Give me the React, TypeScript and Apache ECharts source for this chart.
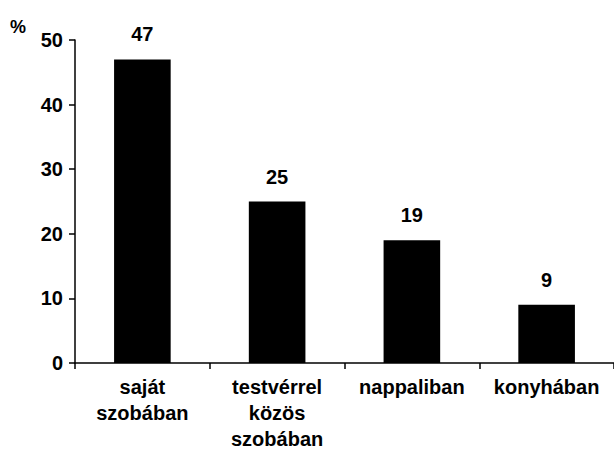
import React, { useEffect, useRef } from "react";
import * as echarts from "echarts";

const categories = ["saját\nszobában", "testvérrel\nközös\nszobában", "nappaliban", "konyhában"];
const values = [47, 25, 19, 9];
const yTicks = { min: 0, max: 50, interval: 10 };
const unitLabel = "%";

export default function App() {
  const ref = useRef<HTMLDivElement>(null);
  useEffect(() => {
    if (!ref.current) return;
    const chart = echarts.init(ref.current, null, { renderer: "svg" });
    const font = "'Liberation Sans', Arial, sans-serif";
    chart.setOption({
      animation: false,
      backgroundColor: "#ffffff",
      grid: { left: 75, right: -5, top: 40, bottom: 104, containLabel: false },
      graphic: [
        {
          type: "text",
          left: 10,
          top: 18,
          style: { text: unitLabel, fontSize: 18, fontWeight: "bold", fontFamily: font, fill: "#000" },
        },
      ],
      xAxis: {
        type: "category",
        data: categories,
        axisLine: { show: true, lineStyle: { color: "#000", width: 1.5 } },
        axisTick: { show: true, length: 6, lineStyle: { color: "#000", width: 1.5 } },
        axisLabel: {
          color: "#000",
          fontSize: 20,
          fontWeight: "bold",
          fontFamily: font,
          lineHeight: 26,
          margin: 11,
          interval: 0,
        },
      },
      yAxis: {
        type: "value",
        min: yTicks.min,
        max: yTicks.max,
        interval: yTicks.interval,
        splitLine: { show: false },
        axisLine: { show: true, lineStyle: { color: "#000", width: 1.5 } },
        axisTick: { show: true, length: 6, lineStyle: { color: "#000", width: 1.5 } },
        axisLabel: { color: "#000", fontSize: 20, fontWeight: "bold", fontFamily: font, margin: 12 },
      },
      series: [
        {
          type: "bar",
          data: values,
          barWidth: "42%",
          itemStyle: { color: "#000" },
          label: {
            show: true,
            position: "top",
            distance: 15,
            color: "#000",
            fontSize: 20,
            fontWeight: "bold",
            fontFamily: font,
          },
        },
      ],
    });
    return () => chart.dispose();
  }, []);
  return <div ref={ref} style={{ width: 614, height: 467, position: "absolute", left: 0, top: 0 }} />;
}
